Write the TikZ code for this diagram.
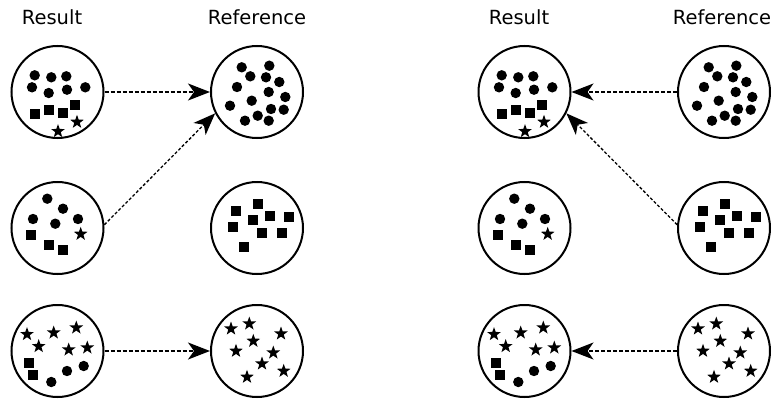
\documentclass[tikz,border=0pt]{standalone}
\usepackage{fontspec}
\setmainfont{DejaVu Sans}
\usetikzlibrary{arrows.meta}
\newcommand\mydot[2]{\fill (#1,#2) circle (5.2pt);}
\newcommand\mysq[2]{\fill[shift={(#1,#2)}] (-5,-5) rectangle (5,5);}
\newcommand\mystar[2]{\fill[shift={(#1,#2)}] (-90:7.2) -- (-54:2.9) -- (-18:7.2) -- (18:2.9) -- (54:7.2) -- (90:2.9) -- (126:7.2) -- (162:2.9) -- (198:7.2) -- (234:2.9) -- cycle;}
\newcommand\contents{%
  % top result
  \mydot{34.7}{75.3}\mydot{51.3}{77.3}\mydot{66.3}{76.3}\mydot{32}{87.3}\mydot{48.7}{93}\mydot{67}{89.7}\mydot{85.3}{87.3}
  \mysq{34.7}{114}\mysq{49}{109.7}\mysq{63.3}{113}\mysq{75.3}{105.3}
  \mystar{58}{131.3}\mystar{77}{122}
  % top reference
  \mydot{241.7}{67.3}\mydot{269.3}{65.7}\mydot{250.3}{76.3}\mydot{266}{77.3}\mydot{279.3}{82}
  \mydot{237}{87}\mydot{268.7}{92}\mydot{285.3}{97}\mydot{251.7}{100.7}\mydot{230}{105.7}
  \mydot{271}{109}\mydot{283.7}{109.7}\mydot{257.7}{115.7}\mydot{245}{120.7}\mydot{268.7}{120.7}
  % middle result
  \mydot{47.3}{198.7}\mydot{63}{208.7}\mydot{33}{219}\mydot{55.3}{223.7}\mydot{78}{219}
  \mysq{31.3}{235.3}\mysq{48.7}{244.7}\mysq{63}{249.7}
  \mystar{80.7}{234}
  % middle reference
  \mysq{257.7}{204}\mysq{236}{211.3}\mysq{270.3}{215.7}\mysq{253.3}{220.3}\mysq{289.3}{217}
  \mysq{232.7}{227.3}\mysq{262}{233}\mysq{282}{233}\mysq{244.3}{247.3}
  % bottom result
  \mystar{27}{334.3}\mystar{53.7}{332.7}\mystar{76.3}{327.7}\mystar{38.7}{346.3}\mystar{68.7}{349.7}\mystar{87.3}{347.7}
  \mysq{28.7}{363}\mysq{33}{374.7}
  \mydot{51.3}{382}\mydot{67}{371}\mydot{83.7}{366}
  % bottom reference
  \mystar{231}{328.7}\mystar{249.3}{323.7}\mystar{281}{333.7}\mystar{253.3}{341}\mystar{236}{351}
  \mystar{273.3}{352.7}\mystar{262}{363.7}\mystar{283.7}{371}\mystar{247}{377}
}
\begin{document}
\begin{tikzpicture}[x=1pt,y=-1pt,
  ring/.style={circle,draw,line width=2pt,minimum size=92pt,inner sep=0pt},
  lbl/.style={anchor=base,inner sep=0pt,font=\fontsize{19.5}{23}\selectfont},
  conn/.style={line width=1.5pt,dash pattern=on 4pt off 2pt,-{Stealth[length=22pt,width=17pt,inset=6pt]}},
  diag/.style={conn,dash pattern=on 3pt off 2pt,line width=1.3pt}]
\useasboundingbox (0,0) rectangle (779,404);
% left panel
\node[lbl] (lresl) at (52,25) {Result};
\node[lbl] (lrefl) at (257,25) {Reference};
\node[ring] (r1) at (57.5,92) {};
\node[ring] (f1) at (257,92) {};
\node[ring] (r2) at (57.5,228) {};
\node[ring] (f2) at (257,228) {};
\node[ring] (r3) at (57.5,351) {};
\node[ring] (f3) at (257,351) {};
\contents
\draw[conn] (r1) -- (f1);
\draw[diag] (r2.4) -- (f1.207);
\draw[conn] (r3) -- (f3);
% right panel
\node[lbl] (rresl) at (519,25) {Result};
\node[lbl] (rrefl) at (722,25) {Reference};
\node[ring] (R1) at (524.5,92) {};
\node[ring] (F1) at (724,92) {};
\node[ring] (R2) at (524.5,228) {};
\node[ring] (F2) at (724,228) {};
\node[ring] (R3) at (524.5,351) {};
\node[ring] (F3) at (724,351) {};
\begin{scope}[xshift=467pt]
\contents
\end{scope}
\draw[conn] (F1) -- (R1);
\draw[diag] (F2.176) -- (R1.333);
\draw[conn] (F3) -- (R3);
\end{tikzpicture}
\end{document}
